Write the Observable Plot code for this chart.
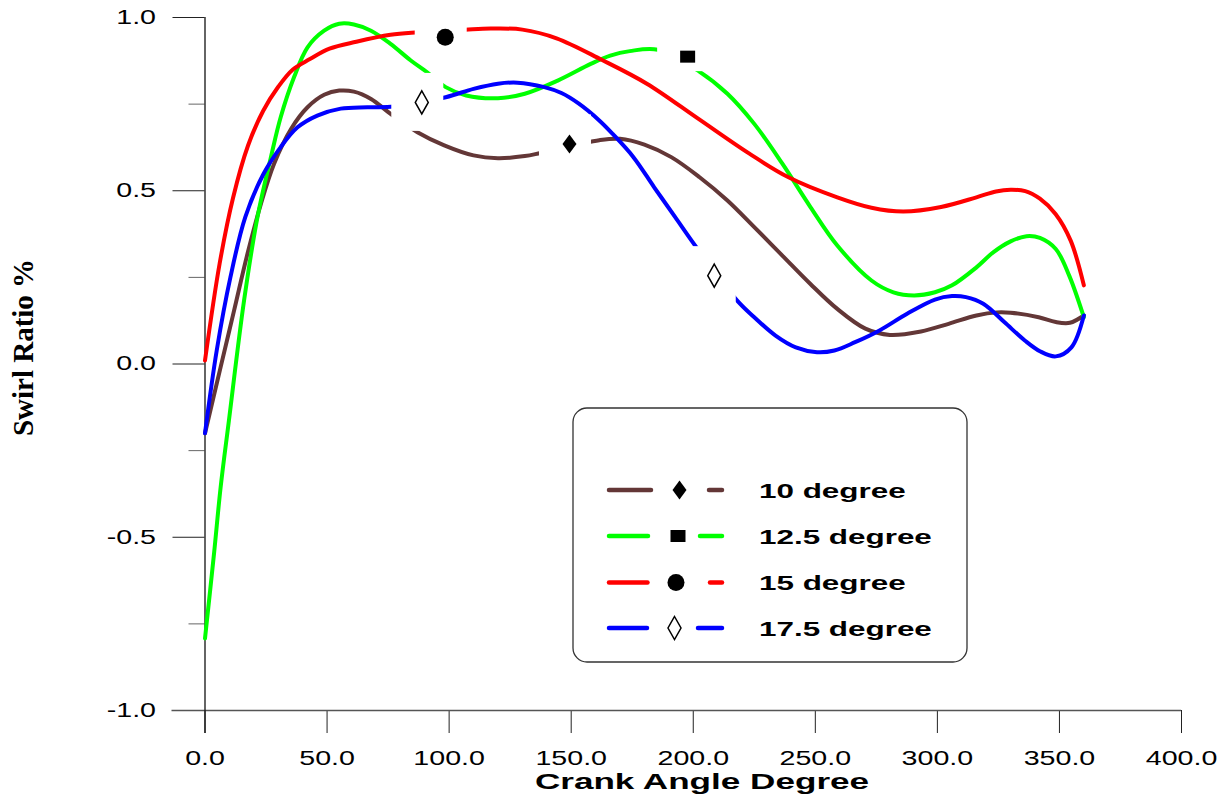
<!DOCTYPE html>
<html><head><meta charset="utf-8">
<script src="https://cdn.jsdelivr.net/npm/d3@7"></script>
<script src="https://cdn.jsdelivr.net/npm/@observablehq/plot@0.6"></script>
<style>html,body{margin:0;padding:0;background:#fff;overflow:hidden}#chart{position:relative;width:1230px;height:801px}</style>
</head><body><div id="chart"></div>
<script>
const seriesNames = ["10 degree", "12.5 degree", "15 degree", "17.5 degree"];
const seriesColors = ["#633737", "#00ff00", "#ff0000", "#0000ff"];

const brownX = [0, 6.4, 11.9, 17.4, 22.9, 28.3, 35.3, 42, 48.8, 55, 61, 68, 76, 87, 98, 110, 120, 131, 137.5, 161.5, 170, 180, 191, 202.6, 214, 225, 236.5, 248, 259, 270.5, 280.5, 293.3, 304.6, 316, 324.4, 330, 341.5, 348.5, 354.3, 360];
const brownY = [-0.2, -0.009, 0.154, 0.318, 0.462, 0.578, 0.679, 0.741, 0.777, 0.789, 0.786, 0.765, 0.722, 0.669, 0.631, 0.602, 0.594, 0.600, 0.609, 0.646, 0.650, 0.633, 0.597, 0.539, 0.472, 0.395, 0.313, 0.231, 0.159, 0.102, 0.084, 0.094, 0.116, 0.140, 0.149, 0.148, 0.135, 0.121, 0.119, 0.14];

const greenX = [0, 3.7, 6.4, 9.8, 16, 21.5, 27, 31, 36.5, 42, 48.8, 55, 61, 68, 76, 84.3, 91, 98.6, 107, 120, 131, 144.5, 158, 166, 174, 185.5, 202.5, 214, 225, 236.5, 248, 259, 273, 282, 290.5, 299, 306, 316, 323, 330, 336.5, 342, 348.5, 354, 360];
const greenY = [-0.792, -0.547, -0.356, -0.163, 0.183, 0.424, 0.597, 0.712, 0.828, 0.914, 0.962, 0.982, 0.98, 0.962, 0.924, 0.876, 0.842, 0.799, 0.775, 0.767, 0.780, 0.818, 0.866, 0.89, 0.903, 0.907, 0.844, 0.78, 0.693, 0.578, 0.453, 0.342, 0.241, 0.207, 0.198, 0.207, 0.227, 0.279, 0.323, 0.354, 0.369, 0.364, 0.332, 0.255, 0.135];

const redX = [0, 6, 11.5, 17.6, 23.8, 30, 36, 43, 51, 62, 76, 86, 106.6, 117, 130, 144, 162.5, 181, 202, 223, 239, 259, 273, 286, 301.5, 316, 324, 330, 336, 342, 348.4, 354.6, 360];
const redY = [0.01, 0.29, 0.48, 0.63, 0.73, 0.80, 0.85, 0.88, 0.91, 0.93, 0.95, 0.957, 0.965, 0.968, 0.965, 0.94, 0.878, 0.809, 0.708, 0.607, 0.539, 0.481, 0.451, 0.440, 0.453, 0.481, 0.498, 0.503, 0.499, 0.477, 0.433, 0.356, 0.227];

const blueX = [0, 4.8, 10.4, 16.5, 24, 31, 37.9, 46, 55.6, 66.5, 77.4, 98.6, 110, 120, 128, 139, 146, 153, 161.5, 167, 175.5, 184, 192.6, 201.8, 218, 225, 233.7, 242, 250.7, 257.8, 266.3, 276.3, 287.6, 299, 306, 311.7, 318.8, 327.4, 335.8, 342, 348.5, 354.9, 360];
const blueY = [-0.2, 0.039, 0.25, 0.424, 0.549, 0.626, 0.683, 0.717, 0.737, 0.741, 0.743, 0.770, 0.794, 0.809, 0.812, 0.799, 0.782, 0.752, 0.703, 0.664, 0.597, 0.51, 0.424, 0.332, 0.183, 0.135, 0.082, 0.048, 0.034, 0.039, 0.063, 0.097, 0.145, 0.186, 0.196, 0.193, 0.174, 0.121, 0.068, 0.037, 0.022, 0.048, 0.14];

const xTicks = [0, 50, 100, 150, 200, 250, 300, 350, 400];
const yTicks = [-1, -0.5, 0, 0.5, 1];
const yMinorTicks = [-0.75, -0.25, 0.25, 0.75];

const markerX = [149.3, 197.7, 98.4, 88.8, 208.6];
const markerY = [0.635, 0.887, 0.943, 0.755, 0.255];
const markerSeries = [0, 1, 2, 3, 3];

const xTitle = "Crank Angle Degree";
const yTitle = "Swirl Ratio %";

// build tables
const rows = [];
[[brownX, brownY], [greenX, greenY], [redX, redY], [blueX, blueY]].forEach(([xs, ys], i) =>
  xs.forEach((x, j) => rows.push({x, y: ys[j], s: seriesNames[i]})));
const markers = markerX.map((x, i) => ({x, y: markerY[i], k: markerSeries[i]}));

// marker symbols
const symFilledDiamond = {draw(c) { c.moveTo(0, -9.5); c.lineTo(7, 0); c.lineTo(0, 9.5); c.lineTo(-7, 0); c.closePath(); }};
const symSquare = {draw(c) { c.rect(-7.5, -6, 15, 12); }};
const symCircle = {draw(c) { c.moveTo(8.5, 0); c.arc(0, 0, 8.5, 0, 2 * Math.PI); }};
const symOpenDiamond = {draw(c) { c.moveTo(0, -11.5); c.lineTo(6.5, 0); c.lineTo(0, 11.5); c.lineTo(-6.5, 0); c.closePath(); }};
const symbols = [symFilledDiamond, symSquare, symCircle, symOpenDiamond];
const symFill = ["black", "black", "black", "white"];
const boxV = [29, 15, 20, 29];

const markMarks = [];
symbols.forEach((sym, k) => {
  const d = markers.filter(m => m.k === k);
  markMarks.push(Plot.rect(d, {x1: "x", x2: "x", y1: "y", y2: "y", fill: "white",
    insetLeft: -30, insetRight: -22, insetTop: -boxV[k], insetBottom: -boxV[k]}));
});
symbols.forEach((sym, k) => {
  const d = markers.filter(m => m.k === k);
  markMarks.push(Plot.dot(d, {x: "x", y: "y", symbol: sym, r: 8, fill: symFill[k],
    stroke: k === 3 ? "black" : "none", strokeWidth: 1.5}));
});

const plot = Plot.plot({
  width: 1230, height: 801,
  marginLeft: 204.5, marginRight: 49, marginTop: 17, marginBottom: 91,
  x: {domain: [0, 400]},
  y: {domain: [-1, 1]},
  color: {domain: seriesNames, range: seriesColors},
  style: {fontFamily: "'Liberation Sans', Arial, sans-serif", fontSize: "20px", color: "#000", background: "#fff"},
  marks: [
    Plot.axisX({ticks: xTicks, tickSize: 23, tickPadding: 17, tickFormat: d => d.toFixed(1), label: null, stroke: "#222"}),
    Plot.axisY({ticks: yTicks, tickSize: 32, tickPadding: 17, tickFormat: d => d.toFixed(1), label: null, stroke: "#222"}),
    Plot.axisY({ticks: yMinorTicks, tickSize: 16, tickFormat: () => "", label: null, stroke: "#666"}),
    Plot.ruleY([-1], {insetLeft: -33, stroke: "#555", strokeWidth: 1.5}),
    Plot.ruleX([0], {insetBottom: -23, stroke: "#111", strokeWidth: 1.3}),
    Plot.line(rows, {x: "x", y: "y", stroke: "s", z: "s", curve: "catmull-rom", strokeWidth: 4}),
    ...markMarks
  ]
});
document.getElementById("chart").append(plot);

const svg = d3.select(plot);
function stretch(sel, f) {
  sel.each(function () {
    const L = this.getComputedTextLength();
    if (L > 0) { this.setAttribute("textLength", L * f); this.setAttribute("lengthAdjust", "spacingAndGlyphs"); }
  });
}
stretch(svg.selectAll("g[aria-label$='tick label'] text"), 1.43);

// axis titles
const xt = svg.append("text").attr("x", 702).attr("y", 789).attr("text-anchor", "middle")
  .attr("font-weight", "bold").attr("font-size", 22.5).attr("fill", "#000").text(xTitle);
stretch(xt, 1.56);
svg.append("text").attr("transform", "translate(33,347.5) rotate(-90)").attr("text-anchor", "middle")
  .attr("font-family", "'Liberation Serif', 'Times New Roman', serif").attr("font-weight", "bold")
  .attr("font-size", 29).attr("fill", "#000").text(yTitle);

// legend
const lg = svg.append("g").attr("text-anchor", "start");
lg.append("rect").attr("x", 573).attr("y", 408).attr("width", 394).attr("height", 254).attr("rx", 14)
  .attr("fill", "white").attr("stroke", "#333").attr("stroke-width", 1.3);
const rowY = [490, 536, 582.5, 628];
const solidEnd = [651, 648, 647.5, 647];
const symPos = [679.5, 678, 676, 674.5];
const dashStart = [709, 700, 710, 698];
seriesNames.forEach((name, i) => {
  const y = rowY[i];
  lg.append("line").attr("x1", 609).attr("x2", solidEnd[i]).attr("y1", y).attr("y2", y)
    .attr("stroke", seriesColors[i]).attr("stroke-width", 4.5).attr("stroke-linecap", "round");
  lg.append("line").attr("x1", dashStart[i]).attr("x2", 722).attr("y1", y).attr("y2", y)
    .attr("stroke", seriesColors[i]).attr("stroke-width", 4.5).attr("stroke-linecap", "round");
  lg.append("path").attr("d", d3.symbol(symbols[i])()).attr("transform", `translate(${symPos[i]},${y})`)
    .attr("fill", symFill[i]).attr("stroke", i === 3 ? "black" : "none").attr("stroke-width", 1.5);
  const t = lg.append("text").attr("x", 759).attr("y", y + 7.5).attr("text-anchor", "start").attr("font-weight", "bold")
    .attr("font-size", 20).attr("fill", "#000").text(name);
  stretch(t, 1.57);
});
</script>
</body></html>
